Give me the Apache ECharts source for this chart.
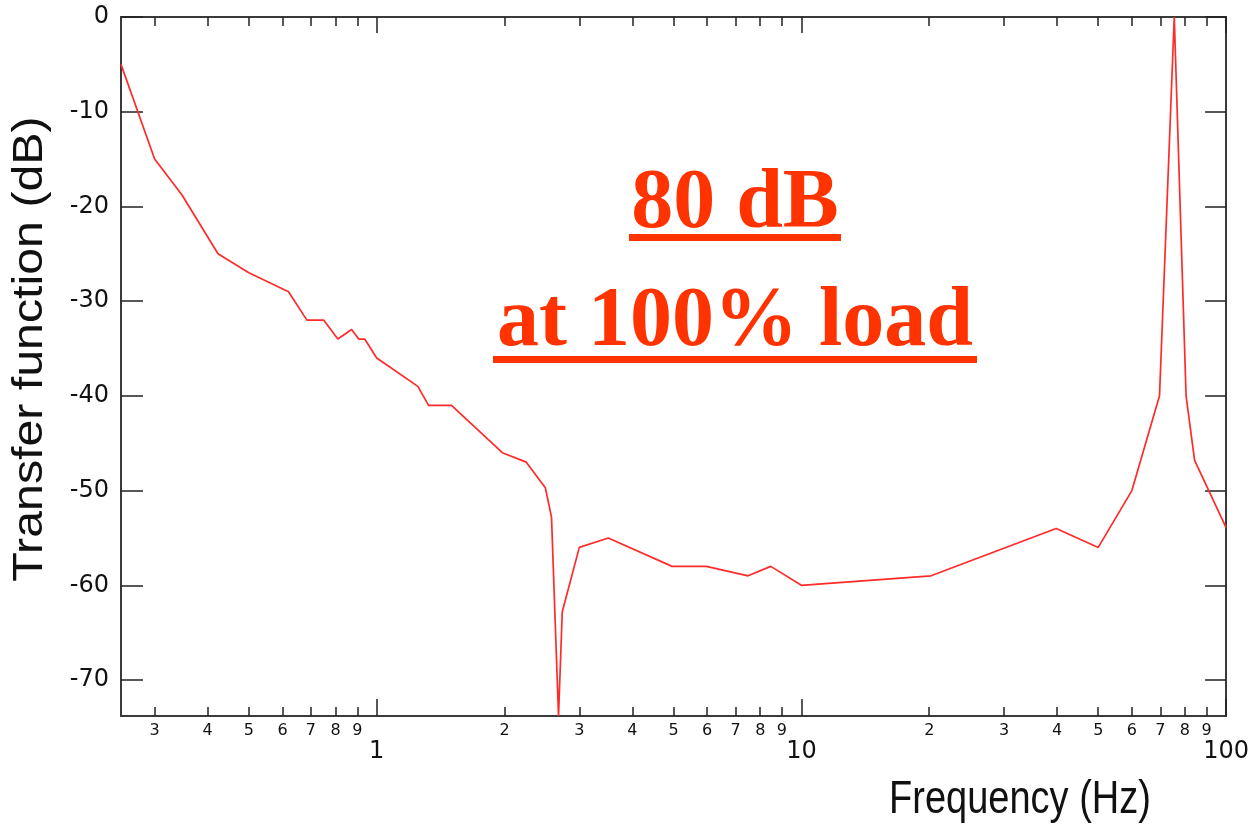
<!DOCTYPE html>
<html>
<head>
<meta charset="utf-8">
<script src="https://cdn.jsdelivr.net/npm/echarts@6/dist/echarts.min.js"></script>
<style>
html,body{margin:0;padding:0;background:#fff;}
#chart{width:1252px;height:828px;}
</style>
</head>
<body>
<div id="chart"></div>
<script>
// Frequency (Hz) and transfer function (dB)
const freqHz = [0.25, 0.30, 0.348, 0.423, 0.50, 0.62, 0.685, 0.75, 0.81, 0.873, 0.907, 0.937, 1.0,
  1.25, 1.325, 1.5, 1.976, 2.25, 2.495, 2.58, 2.68, 2.735, 3.0, 3.51, 4.96, 5.97, 7.49, 8.47, 10.0,
  20.2, 39.8, 50.0, 60.0, 69.7, 75.5, 80.5, 84.3, 100];
const gainDb = [-5.0, -15.0, -18.8, -25.0, -27.0, -29.0, -32.0, -32.0, -34.0, -33.0, -34.0, -34.0, -36.0,
  -39.0, -41.0, -41.0, -46.0, -47.0, -49.7, -52.8, -73.8, -62.8, -56.0, -55.0, -58.0, -58.0, -59.0, -58.0, -60.0,
  -59.0, -54.0, -56.0, -50.0, -40.0, 0.0, -40.0, -46.8, -53.9];

// Tick values / labels
const minorTicks = [0.3, 0.4, 0.5, 0.6, 0.7, 0.8, 0.9, 2, 3, 4, 5, 6, 7, 8, 9, 20, 30, 40, 50, 60, 70, 80, 90];
const majorTicks = [1, 10, 100];
const yTicks = [-70, -60, -50, -40, -30, -20, -10, 0];
const annotationLines = ['80 dB', 'at 100% load'];
const xTitle = 'Frequency (Hz)';
const yTitle = 'Transfer function (dB)';

const X_MIN = 0.25, X_MAX = 100, Y_MIN = -73.8, Y_MAX = 0;
const axisColor = '#3a3a3a';
const tickColor = '#222';
const red = '#ff2a2a';
const annoColor = '#ff3300';

function leadDigit(v) {
  const p = Math.pow(10, Math.floor(Math.log10(v) + 1e-9));
  return String(Math.round(v / p));
}
function majorLabel(v) {
  return String(Math.round(v));
}

function xAxisDef(pos, ticks, len, labelOpt, showLine) {
  return {
    type: 'log', logBase: 10, min: X_MIN, max: X_MAX, position: pos, gridIndex: 0,
    axisLine: { show: showLine, onZero: false, lineStyle: { color: axisColor, width: 2 } },
    axisTick: { show: true, inside: true, length: len, customValues: ticks,
      lineStyle: { color: tickColor, width: 1.5 } },
    axisLabel: labelOpt,
    splitLine: { show: false }, minorTick: { show: false }, minorSplitLine: { show: false }
  };
}

const chart = echarts.init(document.getElementById('chart'), null, { renderer: 'canvas' });

const option = {
  backgroundColor: '#ffffff',
  animation: false,
  grid: { left: 121, top: 17, width: 1107, height: 699, show: false },
  xAxis: [
    xAxisDef('bottom', minorTicks, 9, {
      show: true, customValues: minorTicks, formatter: leadDigit,
      fontSize: 16, fontFamily: 'DejaVu Sans', color: '#111', margin: 7
    }, true),
    xAxisDef('bottom', majorTicks, 17, {
      show: true, customValues: majorTicks, formatter: majorLabel,
      fontSize: 24, fontFamily: 'DejaVu Sans', color: '#111', margin: 24
    }, false),
    xAxisDef('top', minorTicks, 9, { show: false }, true),
    xAxisDef('top', majorTicks, 16, { show: false }, false)
  ],
  yAxis: [
    {
      type: 'value', min: Y_MIN, max: Y_MAX, position: 'left',
      axisLine: { show: true, onZero: false, lineStyle: { color: axisColor, width: 2 } },
      axisTick: { show: true, inside: true, length: 22, customValues: yTicks,
        lineStyle: { color: tickColor, width: 1.5 } },
      axisLabel: { show: true, customValues: yTicks, fontSize: 24, fontFamily: 'DejaVu Sans',
        color: '#111', margin: 12 },
      splitLine: { show: false }
    },
    {
      type: 'value', min: Y_MIN, max: Y_MAX, position: 'right',
      axisLine: { show: true, onZero: false, lineStyle: { color: axisColor, width: 2 } },
      axisTick: { show: true, inside: true, length: 21, customValues: yTicks,
        lineStyle: { color: tickColor, width: 1.5 } },
      axisLabel: { show: false },
      splitLine: { show: false }
    }
  ],
  series: [{
    type: 'line',
    xAxisIndex: 0, yAxisIndex: 0,
    data: freqHz.map((f, i) => [f, gainDb[i]]),
    showSymbol: false, symbol: 'none',
    lineStyle: { color: red, width: 1.7 },
    clip: true
  }],
  graphic: [
    { type: 'text', x: 30, y: 349, rotation: Math.PI / 2, scaleX: 1.15,
      style: { text: yTitle, fontSize: 42, fontFamily: 'Liberation Sans', fill: '#111',
        textAlign: 'center', textVerticalAlign: 'middle' } },
    { type: 'text', x: 1020, y: 800, scaleY: 1.2,
      style: { text: xTitle, fontSize: 38, fontFamily: 'Liberation Sans', fill: '#111',
        textAlign: 'center', textVerticalAlign: 'middle' } },
    { type: 'text', x: 735, y: 205,
      style: { text: annotationLines[0], fontSize: 84, fontWeight: 'bold', fontFamily: 'Liberation Serif',
        fill: annoColor, textAlign: 'center', textVerticalAlign: 'middle' } },
    { type: 'rect', shape: { x: 629, y: 234, width: 212, height: 7 }, style: { fill: annoColor } },
    { type: 'text', x: 735, y: 323,
      style: { text: annotationLines[1], fontSize: 84, fontWeight: 'bold', fontFamily: 'Liberation Serif',
        fill: annoColor, textAlign: 'center', textVerticalAlign: 'middle' } },
    { type: 'rect', shape: { x: 493, y: 356, width: 484, height: 7 }, style: { fill: annoColor } }
  ]
};
chart.setOption(option);
</script>
</body>
</html>
